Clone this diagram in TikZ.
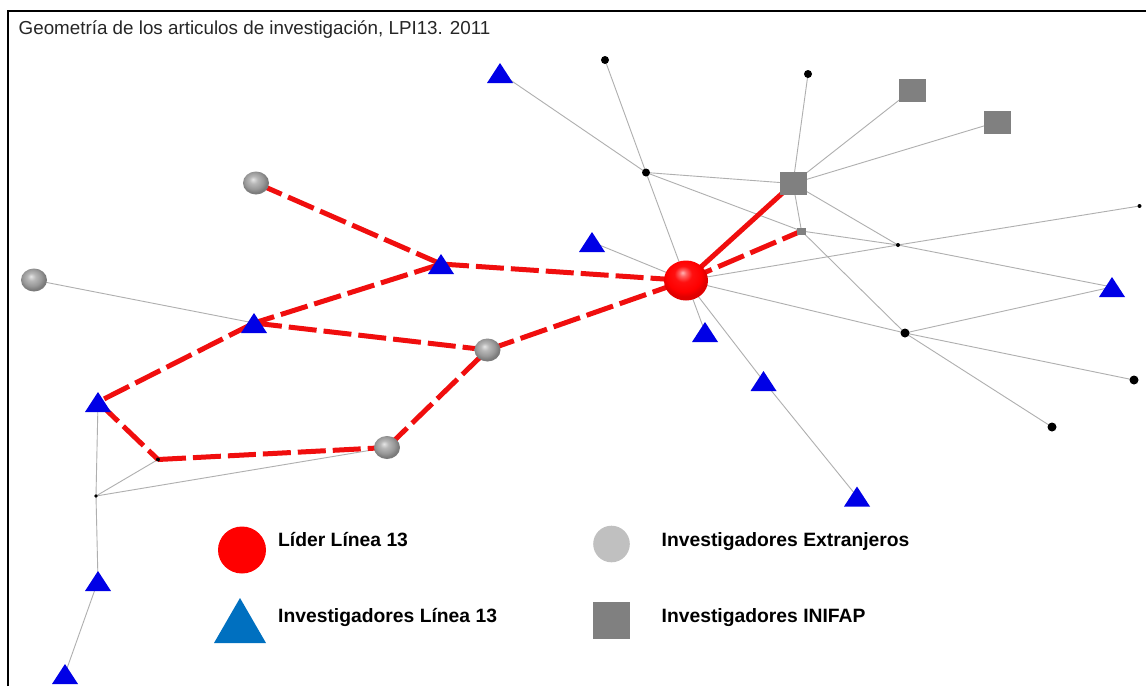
\documentclass[tikz,border=0pt]{standalone}
\usepackage{fontspec}
\setmainfont{Liberation Sans}
\usetikzlibrary{calc}
\definecolor{netblue}{RGB}{0,0,230}
\definecolor{legblue}{RGB}{0,112,192}
\definecolor{inigray}{RGB}{128,128,128}
\definecolor{edgegray}{RGB}{175,175,175}
\definecolor{linkred}{RGB}{240,14,14}
\definecolor{legsilver}{RGB}{192,192,192}
\pgfdeclareradialshading{redball}{\pgfpoint{-4bp}{10bp}}{color(0bp)=(red!30!white); color(4bp)=(red!62!white); color(10bp)=(red!94!white); color(20bp)=(red); color(25bp)=(red!88!black); color(50bp)=(red!88!black)}
\pgfdeclareradialshading{grayball}{\pgfpoint{-6bp}{8bp}}{color(0bp)=(black!10); color(8bp)=(black!28); color(18bp)=(black!40); color(25bp)=(black!52); color(50bp)=(black!52)}
\newcommand\glyphtri[1]{\fill[netblue] ([shift={(-13,10)}]#1) -- ([shift={(13,10)}]#1) -- ([shift={(0,-10)}]#1) -- cycle;}
\newcommand\glyphsq[1]{\fill[inigray] ([shift={(-13.5,-11.5)}]#1) rectangle ([shift={(13.5,11.5)}]#1);}
\newcommand\glyphball[1]{\shade[shading=grayball] (#1) ellipse (13 and 11.5);}
\begin{document}
\begin{tikzpicture}[x=1pt,y=-1pt,
  grayedge/.style={draw=edgegray, line width=0.9pt},
  reddash/.style={draw=linkred, line width=5pt, dash pattern=on 28pt off 7pt},
  redsolid/.style={draw=linkred, line width=5pt},
  legtext/.style={anchor=base west, inner sep=0pt, font=\bfseries\fontsize{19.3}{22}\selectfont}]
\useasboundingbox (0,0) rectangle (1146,686);
\fill[white] (0,0) rectangle (1146,686);
\draw[line width=1.2pt] (8,686) -- (8,11) -- (1146,11);
\node[anchor=base west, inner sep=0pt, font=\fontsize{18.8}{22}\selectfont, text=black!85] (title) at (18.5,34.3) {Geometría de los articulos de investigación, LPI13. 2011};
% positions
\coordinate (T1) at (500,73);
\coordinate (D1) at (605,60);
\coordinate (D2) at (808,74);
\coordinate (S1) at (912,90);
\coordinate (S2) at (997,122);
\coordinate (D3) at (646,172.5);
\coordinate (S3) at (793,183.5);
\coordinate (Q) at (801.5,231);
\coordinate (D4) at (1139.5,206);
\coordinate (D5) at (898,245);
\coordinate (T2) at (592,242);
\coordinate (E1) at (256,183);
\coordinate (E2) at (34,280);
\coordinate (T3) at (441,264);
\coordinate (L) at (686,280.5);
\coordinate (T4) at (1112,287);
\coordinate (T5) at (254,323);
\coordinate (T6) at (705,332);
\coordinate (D6) at (905,333);
\coordinate (E3) at (487.5,350);
\coordinate (D7) at (1134,380);
\coordinate (T7) at (763.5,381);
\coordinate (T8) at (98,402);
\coordinate (D8) at (1052,427);
\coordinate (E4) at (387,447.5);
\coordinate (D9) at (158,459.5);
\coordinate (D10) at (96,496);
\coordinate (T9) at (857,496.5);
\coordinate (T10) at (98,581);
\coordinate (T11) at (65,674);
% gray edges
\draw[grayedge] (T1) -- (D3);
\draw[grayedge] (D1) -- (D3);
\draw[grayedge] (D3) -- (L);
\draw[grayedge] (D3) -- (S3);
\draw[grayedge] (D3) -- (Q);
\draw[grayedge] (D2) -- (S3);
\draw[grayedge] (S3) -- (S1);
\draw[grayedge] (S3) -- (S2);
\draw[grayedge] (S3) -- (Q);
\draw[grayedge] (S3) -- (D5);
\draw[grayedge] (Q) -- (D5);
\draw[grayedge] (Q) -- (D6);
\draw[grayedge] (D5) -- (D4);
\draw[grayedge] (D5) -- (L);
\draw[grayedge] (D5) -- (T4);
\draw[grayedge] (T2) -- (L);
\draw[grayedge] (L) -- (T6);
\draw[grayedge] (L) -- (T7);
\draw[grayedge] (T7) -- (T9);
\draw[grayedge] (L) -- (D6);
\draw[grayedge] (D6) -- (T4);
\draw[grayedge] (D6) -- (D7);
\draw[grayedge] (D6) -- (D8);
\draw[grayedge] (E2) -- (T5);
\draw[grayedge] (T8) -- (D10);
\draw[grayedge] (D10) -- (T10);
\draw[grayedge] (T10) -- (T11);
\draw[grayedge] (D10) -- (D9);
\draw[grayedge] (D10) -- (E4);
% red links
\draw[reddash] (E1) -- (T3);
\draw[reddash] (T3) -- (L);
\draw[reddash] (T3) -- (T5);
\draw[reddash] (T5) -- (E3);
\draw[reddash] (E3) -- (L);
\draw[reddash] (T5) -- (T8);
\draw[reddash] (T8) -- (D9);
\draw[reddash] (D9) -- (E4);
\draw[reddash] (E4) -- (E3);
\draw[reddash] (L) -- (Q);
\draw[redsolid] (L) -- (S3);
% glyphs
\glyphtri{T1}\glyphtri{T2}\glyphtri{T3}\glyphtri{T4}\glyphtri{T5}\glyphtri{T6}
\glyphtri{T7}\glyphtri{T8}\glyphtri{T9}\glyphtri{T10}\glyphtri{T11}
\glyphsq{S1}\glyphsq{S2}\glyphsq{S3}
\fill[inigray] ([shift={(-4.5,-3.5)}]Q) rectangle ([shift={(4.5,3.5)}]Q);
\fill (D1) circle (4); \fill (D2) circle (4); \fill (D3) circle (4);
\fill (D6) circle (4.5); \fill (D7) circle (4.5); \fill (D8) circle (4.5);
\fill (D4) circle (2); \fill (D5) circle (2); \fill (D9) circle (2); \fill (D10) circle (1.8);
\glyphball{E1}\glyphball{E2}\glyphball{E3}\glyphball{E4}
\shade[shading=redball] (L) ellipse (22 and 20);
% legend
\coordinate (legL) at (242,550);
\coordinate (legT) at (240,620);
\coordinate (legE) at (611.5,544);
\coordinate (legS) at (611.5,620.5);
\fill[red] (legL) ellipse (24 and 23.5);
\fill[legblue] ([shift={(-26,23)}]legT) -- ([shift={(26,23)}]legT) -- ([shift={(0,-22)}]legT) -- cycle;
\fill[legsilver] (legE) circle (18.3);
\fill[inigray] ([shift={(-18.5,-18.5)}]legS) rectangle ([shift={(18.5,18.5)}]legS);
\node[legtext] (txtL) at (278,546.3) {Líder Línea 13};
\node[legtext] (txtT) at (278,622.3) {Investigadores Línea 13};
\node[legtext] (txtE) at (661.5,546.3) {Investigadores Extranjeros};
\node[legtext] (txtS) at (661.5,622.3) {Investigadores INIFAP};
\end{tikzpicture}
\end{document}
